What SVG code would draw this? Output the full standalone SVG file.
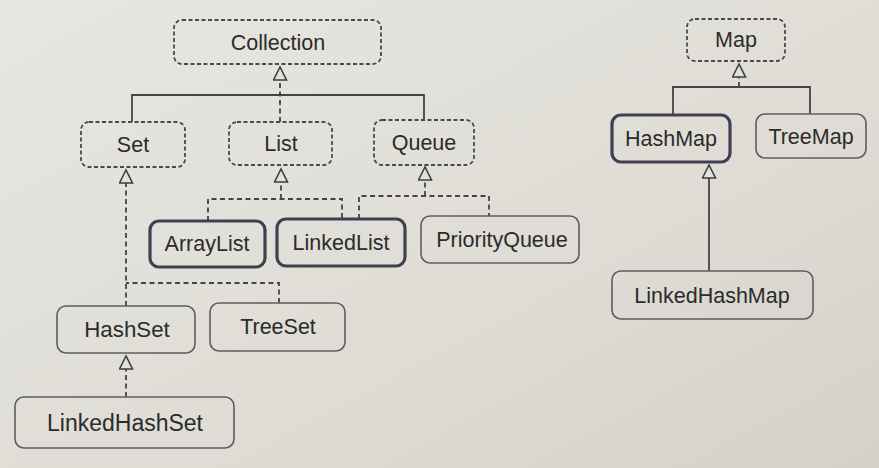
<svg xmlns="http://www.w3.org/2000/svg" width="879" height="468" viewBox="0 0 879 468">
<defs>
<linearGradient id="bg" x1="0" y1="0" x2="1" y2="1">
<stop offset="0" stop-color="#e7e6e0"/>
<stop offset="0.6" stop-color="#dedcd5"/>
<stop offset="1" stop-color="#d3d1c9"/>
</linearGradient>
<marker id="tri" markerUnits="userSpaceOnUse" markerWidth="16" markerHeight="16" viewBox="-1 -1 16 16" refX="13" refY="6.5" orient="auto">
<path d="M0,0 L13,6.5 L0,13 Z" fill="#e2e1da" stroke="#3e3e3e" stroke-width="1.6" stroke-linejoin="miter"/>
</marker>
<style>
.iface{fill:none;stroke:#4a4a4a;stroke-width:1.8;stroke-dasharray:4 2.5}
.cls{fill:none;stroke:#5d5d5d;stroke-width:1.6}
.bold{fill:none;stroke:#404052;stroke-width:3.2}
.lbl{font-family:"Liberation Sans",Arial,sans-serif;font-size:21.5px;fill:#2b2b2b;text-anchor:middle}
.big{font-size:23px}
.dash{fill:none;stroke:#444;stroke-width:1.8;stroke-dasharray:5 3.5}
.solid{fill:none;stroke:#444;stroke-width:1.8}
</style>
</defs>
<rect width="879" height="468" fill="url(#bg)"/>

<g id="connectors">
<path class="solid" d="M132,122 V95 H424 V120"/>
<path class="dash" d="M280,122 V67" marker-end="url(#tri)"/>
<path class="dash" d="M126,306 V170" marker-end="url(#tri)"/>
<path class="dash" d="M279,303 V283 H126"/>
<path class="dash" d="M208,221 V199 H342 V219"/>
<path class="dash" d="M281,199 V169" marker-end="url(#tri)"/>
<path class="dash" d="M359,219 V196 H489 V216"/>
<path class="dash" d="M425,196 V167" marker-end="url(#tri)"/>
<path class="dash" d="M126,397 V356" marker-end="url(#tri)"/>
<path class="solid" d="M673,115 V87 H810 V114"/>
<path class="dash" d="M739,87 V64" marker-end="url(#tri)"/>
<path class="solid" d="M709,271 V165" marker-end="url(#tri)"/>
</g>

<g id="Collection"><rect class="iface" x="174" y="20" width="207" height="44" rx="8"/><text class="lbl" x="278" y="50">Collection</text></g>
<g id="Set"><rect class="iface" x="81" y="122" width="104" height="45" rx="8"/><text class="lbl" x="133" y="152">Set</text></g>
<g id="List"><rect class="iface" x="229" y="122" width="103" height="43" rx="8"/><text class="lbl" x="281" y="151">List</text></g>
<g id="Queue"><rect class="iface" x="374" y="120" width="100" height="45" rx="8"/><text class="lbl" x="424" y="150">Queue</text></g>
<g id="ArrayList"><rect class="bold" x="150" y="221" width="115" height="46" rx="9"/><text class="lbl" x="207" y="251">ArrayList</text></g>
<g id="LinkedList"><rect class="bold" x="277" y="219" width="128" height="47" rx="9"/><text class="lbl" x="341" y="250">LinkedList</text></g>
<g id="PriorityQueue"><rect class="cls" x="421" y="216" width="158" height="47" rx="9"/><text class="lbl" x="502" y="247">PriorityQueue</text></g>
<g id="HashSet"><rect class="cls" x="57" y="306" width="138" height="47" rx="9"/><text class="lbl" x="127" y="337" style="font-size:22.3px">HashSet</text></g>
<g id="TreeSet"><rect class="cls" x="210" y="303" width="135" height="48" rx="9"/><text class="lbl" x="278" y="334">TreeSet</text></g>
<g id="LinkedHashSet"><rect class="cls" x="15" y="397" width="219" height="51" rx="9"/><text class="lbl big" x="125" y="431">LinkedHashSet</text></g>
<g id="Map"><rect class="iface" x="687" y="19" width="98" height="42" rx="8"/><text class="lbl" x="736" y="47">Map</text></g>
<g id="HashMap"><rect class="bold" x="612" y="115" width="118" height="47" rx="9"/><text class="lbl" x="671" y="146">HashMap</text></g>
<g id="TreeMap"><rect class="cls" x="756" y="114" width="110" height="44" rx="9"/><text class="lbl" x="811" y="144">TreeMap</text></g>
<g id="LinkedHashMap"><rect class="cls" x="612" y="271" width="201" height="48" rx="9"/><text class="lbl" x="712" y="303">LinkedHashMap</text></g>
</svg>
